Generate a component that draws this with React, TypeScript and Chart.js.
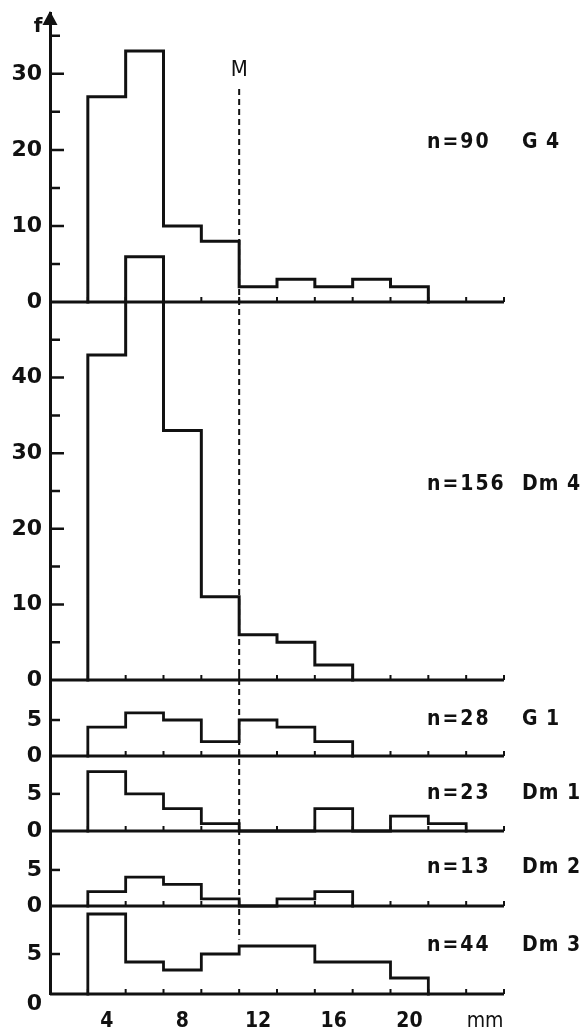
import React, { useEffect, useRef } from 'react';
import { Chart, registerables } from 'chart.js';

Chart.register(...registerables);

// Left edges of the 2 mm size classes (mm)
const binStarts = [3, 5, 7, 9, 11, 13, 15, 17, 19, 21, 23];
const binWidth = 2;

// Frequency per size class, one array per sample
const countsG4 = [27, 33, 10, 8, 2, 3, 2, 3, 2];
const countsDm4 = [43, 56, 33, 11, 6, 5, 2];
const countsG1 = [4, 6, 5, 2, 5, 4, 2];
const countsDm1 = [8, 5, 3, 1, 0, 0, 3, 0, 2, 1];
const countsDm2 = [2, 4, 3, 1, 0, 1, 2];
const countsDm3 = [10, 4, 3, 5, 6, 6, 4, 4, 2];

const sampleNames = ['G 4', 'Dm 4', 'G 1', 'Dm 1', 'Dm 2', 'Dm 3'];
const sampleSizes = [90, 156, 28, 23, 13, 44];

// Size at which the dashed "M" marker is drawn (mm)
const markerM = 11;

// x axis
const xMin = 1;
const xMax = 25;
const xTickLabels = [4, 8, 12, 16, 20];
const unitLabelAt = 24;

const ink = '#111';
const axisFamily = '"DejaVu Sans", sans-serif';
const textFamily = '"DejaVu Sans Condensed", "Liberation Sans Narrow", sans-serif';

// Panel layout, top to bottom
type Panel = {
  id: string;
  counts: number[];
  name: string;
  n: number;
  max: number;
  weight: number;
  labelTop: number;
  tickTop: number;
  textLevel: number;
  line: number;
};

const panelCounts = [countsG4, countsDm4, countsG1, countsDm1, countsDm2, countsDm3];
const panelIds = ['yG4', 'yDm4', 'yG1', 'yDm1', 'yDm2', 'yDm3'];
const panelMax = [38, 50, 10.56, 10.1, 10.4, 11];
const panelWeight = [289, 378, 76, 75, 75, 88];
const panelLabelTop = [30, 40, 5, 5, 5, 5];
const panelTickTop = [35, 45, 5, 5, 5, 5];
const panelTextLevel = [21, 25.8, 5.1, 5.1, 5.4, 6];
const panelLine = [3, 3, 2.8, 2.8, 2.8, 2.8];

const panels: Panel[] = panelIds.map((id, i) => ({
  id,
  counts: panelCounts[i],
  name: sampleNames[i],
  n: sampleSizes[i],
  max: panelMax[i],
  weight: panelWeight[i],
  labelTop: panelLabelTop[i],
  tickTop: panelTickTop[i],
  textLevel: panelTextLevel[i],
  line: panelLine[i],
}));

// Marker line extent, in the units of the top and bottom panels
const markerTopLevel = 28;
const markerLabelLevel = 30.5;
const markerBottomLevel = 6.8;

// Outline of a histogram as a stepped line through the class edges
function outline(counts: number[]) {
  const pts = [{ x: binStarts[0], y: 0 }];
  counts.forEach((c, i) => pts.push({ x: binStarts[i], y: c }));
  pts.push({ x: binStarts[counts.length - 1] + binWidth, y: 0 });
  return pts;
}

const decorations = {
  id: 'decorations',
  afterDatasetsDraw(chart: any) {
    const ctx: CanvasRenderingContext2D = chart.ctx;
    const area = chart.chartArea;
    const xs = chart.scales.x;
    ctx.save();
    ctx.strokeStyle = ink;
    ctx.fillStyle = ink;
    ctx.lineCap = 'butt';

    panels.forEach((p, i) => {
      const ys = chart.scales[p.id];
      const y0 = ys.getPixelForValue(0);

      // baseline of the panel
      ctx.lineWidth = 3;
      ctx.beginPath();
      ctx.moveTo(area.left, y0);
      ctx.lineTo(xs.getPixelForValue(xMax), y0);
      ctx.stroke();

      // class boundary marks pointing up
      ctx.lineWidth = 2;
      ctx.beginPath();
      for (const t of xs.ticks) {
        if (t.value > xMin && t.value % 2 === 1) {
          const px = xs.getPixelForValue(t.value);
          ctx.moveTo(px, y0);
          ctx.lineTo(px, y0 - 5);
        }
      }
      ctx.stroke();

      // frequency marks pointing right
      ctx.lineWidth = 2.5;
      ctx.beginPath();
      for (const t of ys.ticks) {
        if (t.value <= 0 || t.value > p.tickTop) continue;
        const len = t.value % 10 === 0 ? 14 : 10;
        const py = ys.getPixelForValue(t.value);
        ctx.moveTo(area.left, py);
        ctx.lineTo(area.left + len, py);
      }
      ctx.stroke();

      // sample size and sample name
      const yText = ys.getPixelForValue(p.textLevel);
      ctx.font = `bold 21px ${textFamily}`;
      ctx.textBaseline = 'middle';
      ctx.textAlign = 'left';
      (ctx as any).letterSpacing = '2px';
      ctx.fillText(`n=${p.n}`, area.right - 77, yText);
      (ctx as any).letterSpacing = '1px';
      ctx.fillText(p.name, area.right + 18, yText);
      (ctx as any).letterSpacing = '0px';

      // zero of the bottom panel sits a little lower, clear of the x axis
      if (i === panels.length - 1) {
        ctx.font = `bold 22px ${axisFamily}`;
        ctx.textAlign = 'right';
        ctx.fillText('0', area.left - 8, y0 + 10);
      }
    });

    // arrow on the frequency axis
    ctx.beginPath();
    ctx.moveTo(area.left, area.top - 2);
    ctx.lineTo(area.left - 7.5, area.top + 12);
    ctx.lineTo(area.left + 7.5, area.top + 12);
    ctx.closePath();
    ctx.fill();

    ctx.font = `bold 20px ${axisFamily}`;
    ctx.textAlign = 'center';
    ctx.textBaseline = 'middle';
    ctx.fillText('f', area.left - 12, area.top + 14);

    // dashed marker M
    const top = chart.scales[panels[0].id];
    const bottom = chart.scales[panels[panels.length - 1].id];
    const mx = xs.getPixelForValue(markerM);
    ctx.lineWidth = 2;
    ctx.setLineDash([6, 4]);
    ctx.beginPath();
    ctx.moveTo(mx, top.getPixelForValue(markerTopLevel));
    ctx.lineTo(mx, bottom.getPixelForValue(markerBottomLevel));
    ctx.stroke();
    ctx.setLineDash([]);
    ctx.font = `22px ${textFamily}`;
    ctx.fillText('M', mx, top.getPixelForValue(markerLabelLevel));

    ctx.restore();
  },
};

function buildScales() {
  const scales: any = {
    x: {
      type: 'linear',
      position: 'bottom',
      min: xMin,
      max: xMax,
      grid: { display: false, drawTicks: false },
      border: { display: false },
      ticks: {
        stepSize: 1,
        autoSkip: false,
        maxRotation: 0,
        includeBounds: false,
        padding: 15,
        color: ink,
        font: (c: any) =>
          c.tick && c.tick.value === unitLabelAt
            ? { family: textFamily, size: 21 }
            : { family: textFamily, size: 21, weight: 'bold' },
        callback: (v: number) =>
          xTickLabels.includes(v) ? String(v) : v === unitLabelAt ? 'mm' : '',
      },
      afterFit(s: any) {
        s.height = 35;
        s.paddingLeft = 0;
        s.paddingRight = 0;
      },
    },
  };
  panels.forEach((p, i) => {
    const isLast = i === panels.length - 1;
    scales[p.id] = {
      type: 'linear',
      position: 'left',
      stack: 'panels',
      stackWeight: p.weight,
      weight: panels.length - i,
      min: 0,
      max: p.max,
      grid: { display: false, drawTicks: false },
      border: { display: true, width: 3, color: ink },
      ticks: {
        stepSize: 5,
        includeBounds: false,
        autoSkip: false,
        padding: 8,
        color: ink,
        font: { family: axisFamily, size: 22, weight: 'bold' },
        callback: (v: number) => {
          if (isLast && v === 0) return '';
          if (p.labelTop === 5) return v === 0 || v === 5 ? String(v) : '';
          return v % 10 === 0 && v <= p.labelTop ? String(v) : '';
        },
      },
      afterFit(s: any) {
        s.width = 50;
        s.paddingTop = 0;
        s.paddingBottom = 0;
      },
    };
  });
  return scales;
}

export default function App() {
  const ref = useRef<HTMLCanvasElement>(null);

  useEffect(() => {
    if (!ref.current) return;
    const chart = new Chart(ref.current, {
      type: 'line',
      data: {
        datasets: panels.map((p) => ({
          label: p.name,
          data: outline(p.counts),
          xAxisID: 'x',
          yAxisID: p.id,
          borderColor: ink,
          borderWidth: p.line,
          pointRadius: 0,
          stepped: 'before',
          fill: false,
          clip: false,
          borderJoinStyle: 'miter',
          borderCapStyle: 'square',
        })),
      } as any,
      options: {
        animation: false,
        responsive: false,
        devicePixelRatio: 1,
        events: [],
        layout: { padding: { top: 13, left: 0, right: 76, bottom: 0 } },
        plugins: { legend: { display: false }, tooltip: { enabled: false } },
        scales: buildScales(),
      } as any,
      plugins: [decorations],
    });
    return () => chart.destroy();
  }, []);

  return (
    <div style={{ position: 'absolute', left: 0, top: 0, width: 580, height: 1029, background: '#fff' }}>
      <canvas ref={ref} width={580} height={1029} style={{ display: 'block' }} />
    </div>
  );
}
